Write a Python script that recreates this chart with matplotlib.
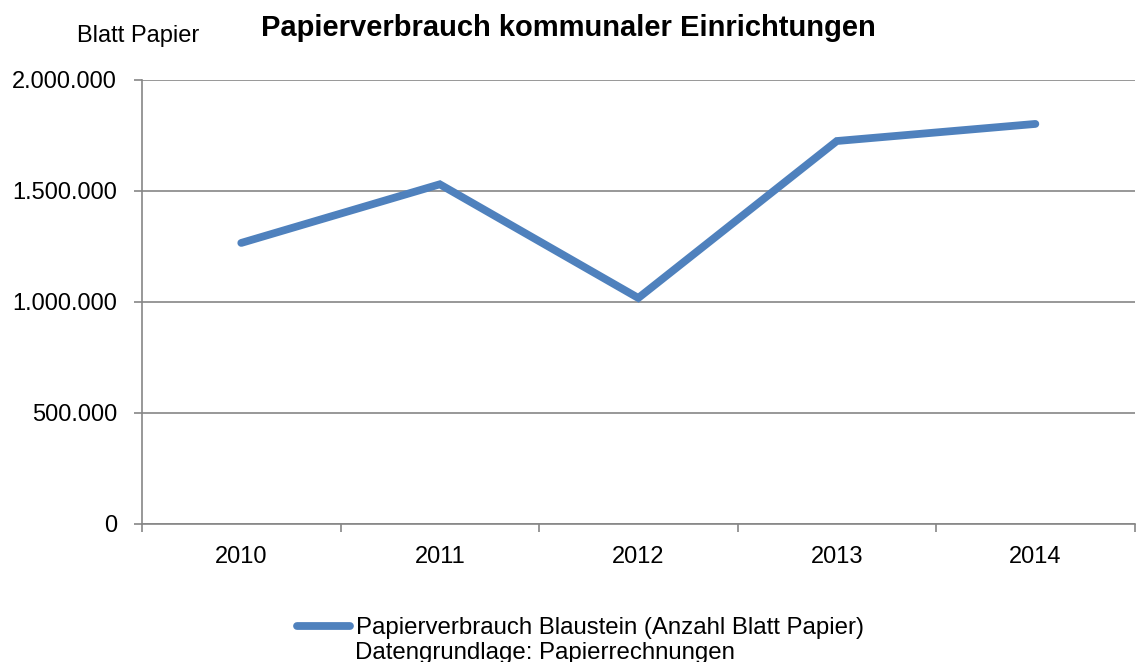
import matplotlib

matplotlib.use("Agg")
import matplotlib.pyplot as plt
from matplotlib.ticker import FuncFormatter, FixedLocator

years = ["2010", "2011", "2012", "2013", "2014"]
sheets = [1266000, 1530000, 1018000, 1725000, 1802000]
y_ticks = [0, 500000, 1000000, 1500000, 2000000]

plt.rcParams["font.family"] = ["Liberation Sans", "DejaVu Sans"]

fig = plt.figure(figsize=(11.37, 6.62), dpi=100)
ax = fig.add_axes([0.1249, 0.2085, 0.873, 0.6707])

x = list(range(len(years)))
line, = ax.plot(x, sheets, color="#4F81BD", linewidth=5.6, solid_capstyle="round",
                solid_joinstyle="miter", zorder=3,
                label="Papierverbrauch Blaustein (Anzahl Blatt Papier)")

ax.set_xlim(-0.5, len(years) - 0.5)
ax.set_ylim(0, 2000000)
ax.set_yticks(y_ticks)
ax.yaxis.set_major_formatter(FuncFormatter(lambda v, _: f"{int(v):,}".replace(",", ".")))
ax.grid(axis="y", color="#868686", linewidth=1.2)

ax.set_xticks(x)
ax.set_xticklabels(years)
ax.xaxis.set_minor_locator(FixedLocator([i - 0.5 for i in range(len(years) + 1)]))
ax.tick_params(axis="x", which="major", length=0, pad=16, labelsize=17)
ax.tick_params(axis="x", which="minor", length=6, color="#868686", width=1.2)
ax.tick_params(axis="y", length=6, color="#868686", width=1.2, pad=12, labelsize=17)

for side in ("top", "right"):
    ax.spines[side].set_visible(False)
for side in ("left", "bottom"):
    ax.spines[side].set_color("#868686")
    ax.spines[side].set_linewidth(1.2)

fig.text(0.1214, 0.946, "Blatt Papier", ha="center", va="center", fontsize=17)
fig.text(0.5, 0.958, "Papierverbrauch kommunaler Einrichtungen", ha="center", va="center",
         fontsize=21, fontweight="bold")

fig.legend(handles=[line], loc="center left", bbox_to_anchor=(0.261, 0.051),
           frameon=False, fontsize=17.3, handlelength=2.2, handletextpad=0.25,
           borderaxespad=0, borderpad=0)
fig.text(0.3125, 0.014, "Datengrundlage: Papierrechnungen", ha="left", va="center",
         fontsize=17.3)

fig.savefig("out.png", dpi=100)
